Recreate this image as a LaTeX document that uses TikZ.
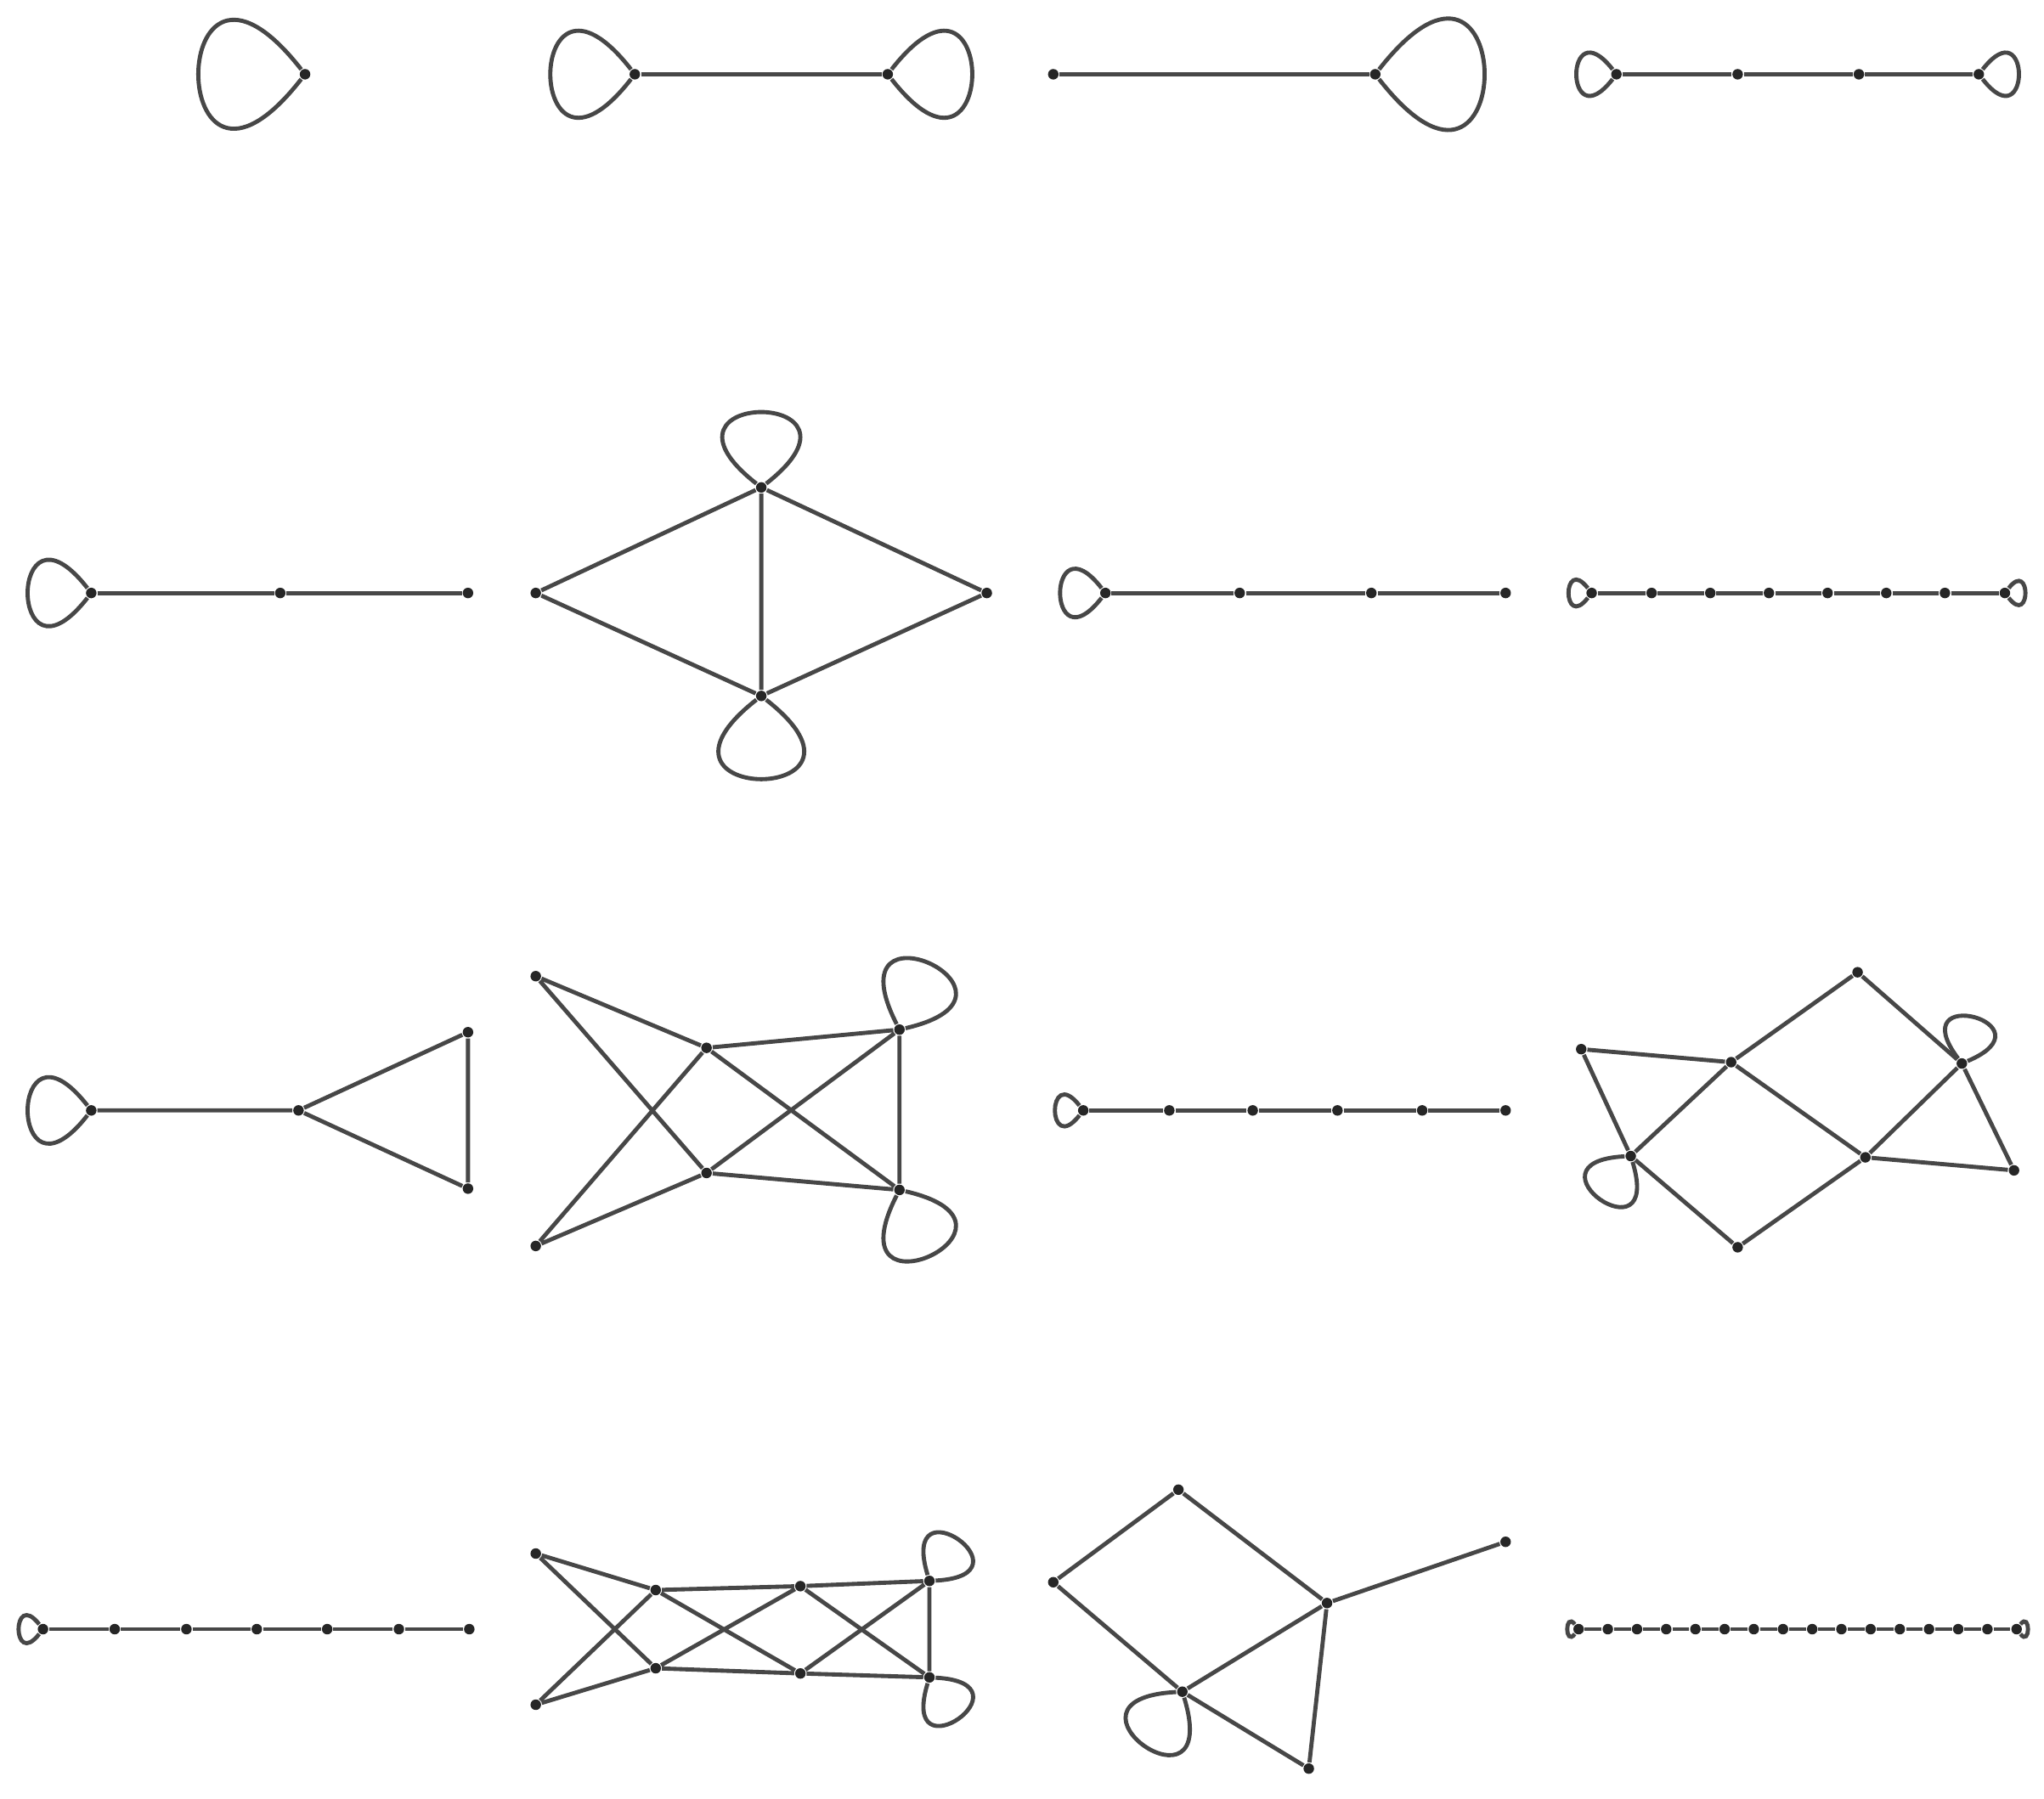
\documentclass[tikz,border=0pt]{standalone}
\begin{document}
\begin{tikzpicture}[x=0.01cm,y=-0.01cm,
  edge/.style={draw=black!72,line width=0.9pt},
  v/.style={circle,fill=black!85,inner sep=0pt,minimum size=2.3pt}]
\useasboundingbox (0,0) rectangle (1568,1380);
\newcommand\lp[3]{\draw[edge] (#1) .. controls +({-(#2)+52}:{2.17*#3}) and +({-(#2)-52}:{2.17*#3}) .. (#1);}
% G1
\node[v] (a1) at (234,57) {}; \lp{a1}{180}{81}
% G2
\node[v] (a2) at (487,57) {}; \node[v] (b2) at (681,57) {};
\draw[edge] (a2)--(b2); \lp{a2}{180}{64} \lp{b2}{0}{64}
% G3
\node[v] (a3) at (808,57) {}; \node[v] (b3) at (1055,57) {};
\draw[edge] (a3)--(b3); \lp{b3}{0}{83}
% G4
\foreach \i/\x in {1/1240,2/1333,3/1426,4/1518} \node[v] (g4\i) at (\x,57) {};
\draw[edge] (g41)--(g42)--(g43)--(g44); \lp{g41}{180}{30} \lp{g44}{0}{30}
% G5
\foreach \i/\x in {1/70,2/215,3/359} \node[v] (g5\i) at (\x,455) {};
\draw[edge] (g51)--(g52)--(g53); \lp{g51}{180}{48}
% G6
\node[v] (t6) at (584,374) {}; \node[v] (b6) at (584,534) {};
\node[v] (l6) at (411,455) {}; \node[v] (r6) at (757,455) {};
\draw[edge] (l6)--(t6)--(r6)--(b6)--(l6) (t6)--(b6);
\lp{t6}{90}{57} \lp{b6}{-90}{63}
% G7
\foreach \i/\x in {1/848,2/951,3/1052,4/1155} \node[v] (g7\i) at (\x,455) {};
\draw[edge] (g71)--(g72)--(g73)--(g74); \lp{g71}{180}{34}
% G8
\foreach \i/\x in {1/1221,2/1267,3/1312,4/1357,5/1402,6/1447,7/1492,8/1538} \node[v] (g8\i) at (\x,455) {};
\draw[edge] (g81)--(g82)--(g83)--(g84)--(g85)--(g86)--(g87)--(g88);
\lp{g81}{180}{17} \lp{g88}{0}{15}
% G9
\node[v] (a9) at (70,852) {}; \node[v] (b9) at (229,852) {};
\node[v] (c9) at (359,792) {}; \node[v] (d9) at (359,912) {};
\draw[edge] (a9)--(b9)--(c9)--(d9)--(b9); \lp{a9}{180}{48}
% G10
\node[v] (A10) at (411,749) {}; \node[v] (B10) at (411,956) {};
\node[v] (C10) at (542,804) {}; \node[v] (D10) at (542,900) {};
\node[v] (E10) at (690,790) {}; \node[v] (F10) at (690,913) {};
\draw[edge] (A10)--(C10) (A10)--(D10) (B10)--(C10) (B10)--(D10) (C10)--(E10) (C10)--(F10) (D10)--(E10) (D10)--(F10) (E10)--(F10);
\lp{E10}{65}{55} \lp{F10}{-65}{55}
% G11
\foreach \i/\x in {1/831,2/897,3/961,4/1026,5/1091,6/1155} \node[v] (g11\i) at (\x,852) {};
\draw[edge] (g111)--(g112)--(g113)--(g114)--(g115)--(g116); \lp{g111}{180}{21}
% G12
\node[v] (P) at (1213,805) {}; \node[v] (Q) at (1328,815) {};
\node[v] (R) at (1425,746) {}; \node[v] (S) at (1505,816) {};
\node[v] (T) at (1545,898) {}; \node[v] (U) at (1431,888) {};
\node[v] (V) at (1251,887) {}; \node[v] (W) at (1333,957) {};
\draw[edge] (P)--(Q) (P)--(V) (Q)--(R) (R)--(S) (Q)--(V) (Q)--(U) (S)--(U) (S)--(T) (U)--(T) (V)--(W) (U)--(W);
\lp{S}{75}{36} \lp{V}{235}{40}
% G13
\foreach \i/\x in {1/33,2/88,3/143,4/197,5/251,6/306,7/360} \node[v] (g13\i) at (\x,1250) {};
\draw[edge] (g131)--(g132)--(g133)--(g134)--(g135)--(g136)--(g137); \lp{g131}{180}{18}
% G14
\node[v] (A14) at (411,1192) {}; \node[v] (B14) at (411,1308) {};
\node[v] (C14) at (503,1220) {}; \node[v] (D14) at (503,1280) {};
\node[v] (E14) at (614,1217) {}; \node[v] (F14) at (614,1284) {};
\node[v] (G14) at (713,1213) {}; \node[v] (H14) at (713,1287) {};
\draw[edge] (A14)--(C14) (A14)--(D14) (B14)--(C14) (B14)--(D14) (C14)--(E14) (C14)--(F14) (D14)--(E14) (D14)--(F14) (E14)--(G14) (E14)--(H14) (F14)--(G14) (F14)--(H14) (G14)--(H14);
\lp{G14}{55}{38} \lp{H14}{-55}{38}
% G15
\node[v] (A15) at (808,1214) {}; \node[v] (B15) at (904,1143) {};
\node[v] (C15) at (1018,1230) {}; \node[v] (D15) at (907,1298) {};
\node[v] (E15) at (1155,1183) {}; \node[v] (F15) at (1004,1357) {};
\draw[edge] (A15)--(B15)--(C15)--(D15)--(A15) (C15)--(E15) (C15)--(F15)--(D15);
\lp{D15}{235}{50}
% G16
\foreach \i in {0,...,15} \node[v] (g16n\i) at ({1211+22.4*\i},1250) {};
\foreach \i [evaluate=\i as \j using int(\i+1)] in {0,...,14} \draw[edge] (g16n\i)--(g16n\j);
\lp{g16n0}{180}{8} \lp{g16n15}{0}{8}
\end{tikzpicture}
\end{document}
